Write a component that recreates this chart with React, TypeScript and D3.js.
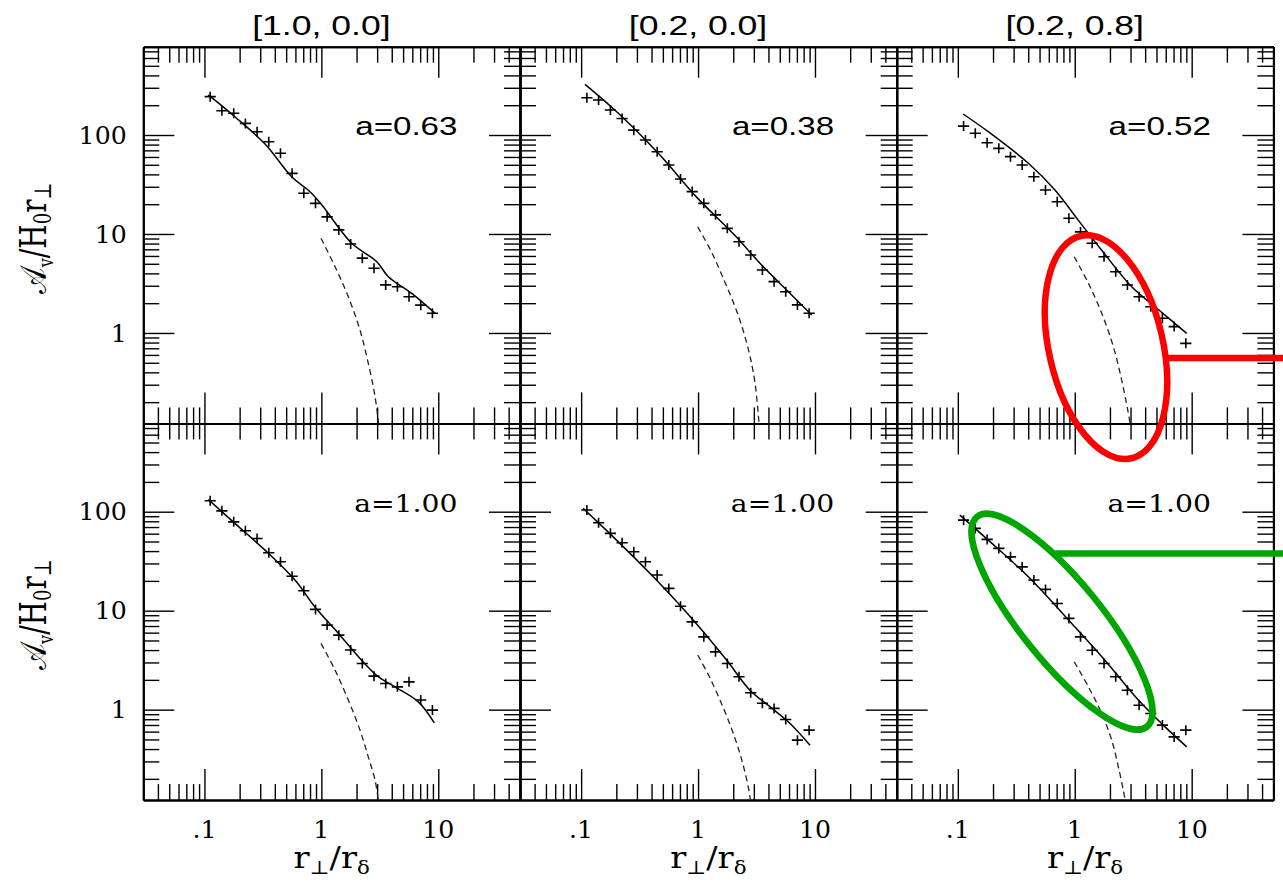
import { useEffect, useRef } from "react";
import * as d3 from "d3";

// axis ranges (log-log), shared by all six panels
const xDomain = [0.03, 50];
const yDomain = [0.122, 780];
const xMajor = [0.1, 1, 10];
const xMinor = [0.04, 0.05, 0.06, 0.07, 0.08, 0.09, 0.2, 0.3, 0.4, 0.5, 0.6, 0.7, 0.8, 0.9, 2, 3, 4, 5, 6, 7, 8, 9, 20, 30, 40];
const yMajor = [1, 10, 100];
const yMinor = [0.2, 0.3, 0.4, 0.5, 0.6, 0.7, 0.8, 0.9, 2, 3, 4, 5, 6, 7, 8, 9, 20, 30, 40, 50, 60, 70, 80, 90, 200, 300, 400, 500, 600, 700];
const xTickLabels = [".1", "1", "10"];
const yTickLabels = ["1", "10", "100"];

const panelTitles = ["[1.0, 0.0]", "[0.2, 0.0]", "[0.2, 0.8]"];
const fitLabels = ["a=0.63", "a=0.38", "a=0.52", "a=1.00", "a=1.00", "a=1.00"];

// r_perp / r_delta of the "+" points
const markerR = [0.112, 0.141, 0.178, 0.224, 0.282, 0.355, 0.447, 0.562, 0.708, 0.891, 1.12, 1.41, 1.78, 2.24, 2.82, 3.55, 4.47, 5.62, 7.08, 8.91];

const points1 = [244, 176, 166, 131, 108, 85.5, 65.3, 41, 25.8, 20.4, 14.9, 11.0, 7.92, 5.7, 4.5, 3.06, 2.93, 2.32, 1.91, 1.58];
const points2 = [238, 226, 179, 147, 112, 89, 67.8, 49.8, 35.9, 26.8, 20.4, 15.6, 11.4, 8.36, 6.13, 4.33, 3.3, 2.61, 1.92, 1.58];
const points3 = [123, 104, 83.6, 73.3, 60.4, 49.8, 37.9, 27.8, 21.2, 14.4, 10.5, 8.05, 5.89, 4.16, 3.05, 2.32, 1.84, 1.41, 1.16, 0.785];
const points4 = [129, 102, 79, 64.1, 53.7, 38.5, 31.2, 22.3, 15.9, 10.3, 7.15, 5.66, 4.0, 2.93, 2.18, 1.84, 1.7, 1.91, 1.25, 0.99];
const points5 = [104, 77.3, 60.4, 48.5, 39.4, 31.2, 22.9, 16.8, 11.1, 7.71, 5.44, 3.84, 2.93, 2.15, 1.48, 1.16, 1.03, 0.796, 0.492, 0.621];
const points6 = [82.2, 67.8, 52.5, 42.6, 35.0, 27.7, 20.4, 16.4, 11.8, 8.36, 5.44, 3.99, 2.93, 2.15, 1.57, 1.11, 0.916, 0.698, 0.531, 0.621];

// solid model curves [r, value]
const solid1 = [[0.108, 254], [0.182, 153], [0.33, 81], [0.557, 37.9], [0.8, 26.7], [1.01, 19.6], [1.82, 8.05], [2.98, 5.25], [3.74, 3.7], [5.93, 2.51], [9.38, 1.58]];
const solid2 = [[0.108, 325], [0.208, 166], [0.457, 65.3], [0.994, 22.9], [2.05, 9.75], [3.5, 4.85], [5.92, 2.61], [9.38, 1.52]];
const solid3 = [[0.111, 163], [0.182, 108], [0.401, 51.8], [0.677, 27.8], [1.07, 13.8], [1.7, 6.85], [3.07, 2.93], [4.86, 1.84], [9.07, 0.99]];
const solid4 = [[0.108, 133], [0.182, 76.2], [0.33, 40.9], [0.595, 20.4], [0.882, 10.9], [1.4, 5.89], [2.21, 3.16], [3.07, 2.15], [4.26, 1.7], [6.75, 1.2], [9.25, 0.736]];
const solid5 = [[0.104, 108], [0.188, 55.7], [0.414, 22.0], [0.911, 8.02], [1.76, 3.16], [2.78, 1.57], [4.13, 1.07], [6.12, 0.726], [9.07, 0.438]];
const solid6 = [[0.104, 92.4], [0.182, 51.6], [0.401, 22.0], [0.942, 7.43], [1.81, 3.16], [3.5, 1.25], [5.92, 0.67], [9.07, 0.421]];

// dashed curves [r, value]
const dash1 = [[0.993, 9.04], [1.31, 4.67], [1.7, 2.32], [2.14, 1.07], [2.52, 0.493], [2.88, 0.227], [3.1, 0.115]];
const dash2 = [[0.994, 11.8], [1.3, 6.62], [1.69, 3.3], [2.2, 1.52], [2.68, 0.698], [3.06, 0.321], [3.33, 0.118]];
const dash3 = [[0.99, 5.89], [1.31, 3.17], [1.7, 1.58], [2.14, 0.726], [2.52, 0.334], [2.84, 0.166], [3.0, 0.115]];
const dash4 = [[0.993, 4.67], [1.31, 2.51], [1.7, 1.25], [2.14, 0.621], [2.52, 0.333], [2.88, 0.194], [3.1, 0.112]];
const dash5 = [[0.994, 3.56], [1.25, 2.15], [1.63, 1.07], [2.05, 0.531], [2.41, 0.286], [2.72, 0.154], [2.82, 0.115]];
const dash6 = [[0.99, 3.04], [1.31, 1.7], [1.7, 0.916], [2.07, 0.492], [2.36, 0.265], [2.6, 0.154], [2.72, 0.115]];

const pointSets = [points1, points2, points3, points4, points5, points6];
const solidSets = [solid1, solid2, solid3, solid4, solid5, solid6];
const dashSets = [dash1, dash2, dash3, dash4, dash5, dash6];

const W = 1283;
const H = 890;
const left = 143.3;
const top = 46.7;
const size = 376.7;
const serif = "'DejaVu Serif', serif";
const sans = "'Liberation Sans', Arial, sans-serif";

function axis(g, ax, transform, values, len) {
  g.append("g")
    .attr("transform", transform)
    .call(ax.tickValues(values).tickSize(-len).tickSizeOuter(0).tickFormat(() => ""))
    .call((s) => s.selectAll("line").attr("stroke-width", 1.4))
    .call((s) => s.select(".domain").attr("stroke-width", 2));
}

function label(parent, str, px, py, opts) {
  return parent
    .append("text")
    .attr("transform", `translate(${px},${py}) scale(${opts.sx || 1},1)`)
    .attr("text-anchor", opts.anchor || "middle")
    .attr("font-family", opts.font)
    .attr("font-size", opts.size)
    .attr("fill", "#000")
    .text(str);
}

export default function App() {
  const svgRef = useRef(null);

  useEffect(() => {
    const svg = d3.select(svgRef.current);
    svg.selectAll("*").remove();
    svg.append("rect").attr("width", W).attr("height", H).attr("fill", "#fff");

    const scales = [];

    pointSets.forEach((pts, i) => {
      const col = i % 3;
      const row = Math.floor(i / 3);
      const x0 = left + col * size;
      const y0 = top + row * size;
      const x = d3.scaleLog().domain(xDomain).range([x0, x0 + size]);
      const y = d3.scaleLog().domain(yDomain).range([y0 + size, y0]);
      scales.push({ x, y });
      const g = svg.append("g");

      const clipId = `clip-${i}`;
      g.append("clipPath").attr("id", clipId).append("rect")
        .attr("x", x0).attr("y", y0).attr("width", size).attr("height", size);

      // inward ticks on all four sides
      [[xMajor, 31], [xMinor, 16]].forEach(([vals, len]) => {
        axis(g, d3.axisBottom(x), `translate(0,${y0 + size})`, vals, len);
        axis(g, d3.axisTop(x), `translate(0,${y0})`, vals, len);
      });
      [[yMajor, 31], [yMinor, 16]].forEach(([vals, len]) => {
        axis(g, d3.axisLeft(y), `translate(${x0},0)`, vals, len);
        axis(g, d3.axisRight(y), `translate(${x0 + size},0)`, vals, len);
      });

      const line = d3.line().x((d) => x(d[0])).y((d) => y(d[1])).curve(d3.curveCatmullRom.alpha(0.5));
      const data = g.append("g").attr("clip-path", `url(#${clipId})`).attr("fill", "none");
      data.append("path").attr("d", line(solidSets[i])).attr("stroke", "#000").attr("stroke-width", 1.5);
      data.append("path").attr("d", line(dashSets[i])).attr("stroke", "#222")
        .attr("stroke-width", 1.3).attr("stroke-dasharray", "6,4");
      data.append("path")
        .attr("d", pts.map((v, j) => {
          const cx = x(markerR[j]);
          const cy = y(v);
          return `M${cx - 5.6},${cy}h11.2M${cx},${cy - 5}v10`;
        }).join(""))
        .attr("stroke", "#000").attr("stroke-width", 1.6);

      // fit parameter
      if (row === 0) {
        label(g, fitLabels[i], x(14.6), y(100), { font: sans, size: 25.5, sx: 1.3, anchor: "end" });
        label(g, panelTitles[col], x(1), 35, { font: sans, size: 28, sx: 1.27 });
      } else {
        label(g, fitLabels[i], x(14.6), y(100), { font: serif, size: 25, sx: 1.13, anchor: "end" });
        xMajor.forEach((v, k) => label(g, xTickLabels[k], x(v), 838, { font: serif, size: 24, sx: 1.05 }));
        const xl = g.append("text")
          .attr("transform", `translate(${x0 + size / 2},868) scale(1.12,1)`)
          .attr("text-anchor", "middle").attr("font-family", serif).attr("font-size", 30);
        xl.append("tspan").text("r");
        xl.append("tspan").attr("font-size", 19).attr("dy", 6).text("⊥");
        xl.append("tspan").attr("dy", -6).text("/r");
        xl.append("tspan").attr("font-size", 19).attr("dy", 6).text("δ");
      }

      if (col === 0) {
        yMajor.forEach((v, k) => label(g, yTickLabels[k], x0 - 16.6, y(v) + 8.6, { font: serif, size: 24, sx: 1.05, anchor: "end" }));
        const yl = g.append("text")
          .attr("transform", `translate(46,${y0 + size / 2 + 3}) rotate(-90) scale(1,1.33)`)
          .attr("text-anchor", "middle").attr("font-family", serif).attr("font-size", 28);
        yl.append("tspan").text("𝒜");
        yl.append("tspan").attr("font-size", 16).attr("dy", 5).text("v");
        yl.append("tspan").attr("dy", -5).text("/H");
        yl.append("tspan").attr("font-size", 18).attr("dy", 4).text("0");
        yl.append("tspan").attr("dy", -4).text("r");
        yl.append("tspan").attr("font-size", 18).attr("dy", 4).text("⊥");
      }
    });

    // highlight annotations drawn over the right-hand panels
    const top3 = scales[2];
    const bot3 = scales[5];
    const marks = svg.append("g").attr("fill", "none");
    marks.append("ellipse")
      .attr("transform", `translate(${top3.x(1.85)},${top3.y(0.72)}) rotate(-12.9)`)
      .attr("rx", 57).attr("ry", 114)
      .attr("stroke", "#ff0000").attr("stroke-width", 6.5);
    marks.append("line")
      .attr("x1", top3.x(5.94)).attr("x2", W).attr("y1", top3.y(0.56)).attr("y2", top3.y(0.56))
      .attr("stroke", "#ff0000").attr("stroke-width", 6.5);
    marks.append("ellipse")
      .attr("transform", `translate(${bot3.x(0.778)},${bot3.y(7.74)}) rotate(51)`)
      .attr("rx", 135).attr("ry", 40)
      .attr("stroke", "#00a600").attr("stroke-width", 6.5);
    marks.append("line")
      .attr("x1", bot3.x(0.678)).attr("x2", W).attr("y1", bot3.y(37.9)).attr("y2", bot3.y(37.9))
      .attr("stroke", "#00a600").attr("stroke-width", 6.5);
  }, []);

  return <svg ref={svgRef} width={W} height={H} style={{ position: "absolute", left: 0, top: 0 }} />;
}
